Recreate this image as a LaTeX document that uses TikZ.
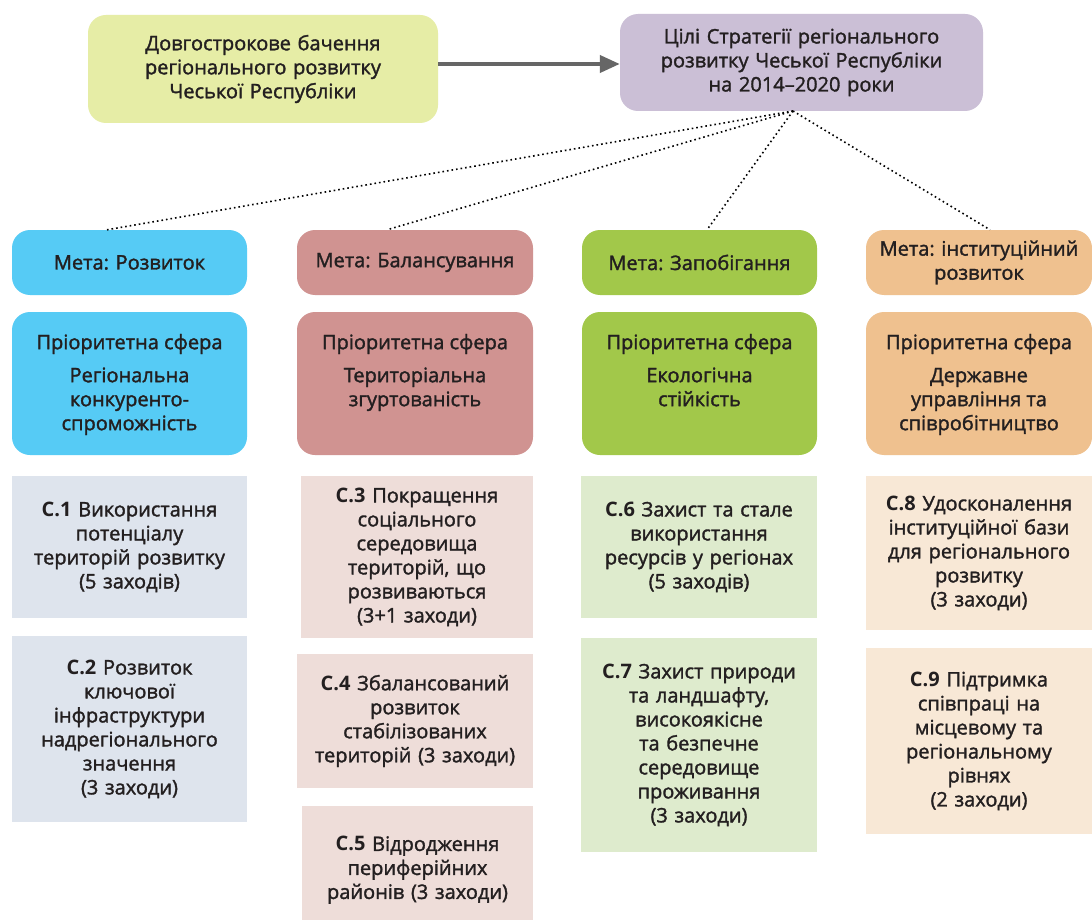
\documentclass[tikz,border=0pt]{standalone}
\usepackage{fontspec}
\setmainfont{Open Sans}[UprightFeatures={FakeBold=1.6}]
\usetikzlibrary{arrows.meta}
\definecolor{txt}{HTML}{231F20}
\definecolor{cA}{HTML}{E6EDA6}
\definecolor{cB}{HTML}{CBBFD6}
\definecolor{cBlue}{HTML}{56CBF5}
\definecolor{cRose}{HTML}{D09391}
\definecolor{cGreen}{HTML}{A2C84A}
\definecolor{cOrange}{HTML}{EFC18F}
\definecolor{lBlue}{HTML}{DEE4ED}
\definecolor{lRose}{HTML}{EEDDD9}
\definecolor{lGreen}{HTML}{DEEBCD}
\definecolor{lOrange}{HTML}{F8E8D6}
\definecolor{arr}{HTML}{666666}
\frenchspacing
\begin{document}
\begin{tikzpicture}[x=1pt,y=-1pt,
  every node/.style={text=txt, font=\fontsize{20}{24}\selectfont},
  rbox/.style={rounded corners=18pt, inner sep=0pt, align=center},
  sbox/.style={inner sep=0pt, align=center},
  ptext/.style={inner sep=0pt, align=center, anchor=north},
  dotline/.style={line width=1.6pt, dash pattern=on 1.6pt off 3pt},
  bigarrow/.style={line width=4pt, arr, -{Triangle[length=20pt,width=17pt]}}
]
\useasboundingbox (0,0) rectangle (1092,920);
\fill[white] (0,0) rectangle (1092,920);

% top boxes
\node[rbox, fill=cA, minimum width=350, minimum height=108, text width=340] (A) at (263,69)
  {Довгострокове бачення\\регіонального розвитку\\Чеської Республіки};
\node[rbox, fill=cB, minimum width=363, minimum height=97, text width=355] (B) at (801.5,62.5)
  {Цілі Стратегії регіонального\\розвитку Чеської Республіки\\на 2014–2020 роки};
\draw[bigarrow] (A.east |- 0,64) -- (B.west |- 0,64);

% goal boxes
\node[rbox, fill=cBlue, minimum width=235, minimum height=65, text width=228] (m1) at (129.5,262.5) {Мета: Розвиток};
\node[rbox, fill=cRose, minimum width=236, minimum height=65, text width=232] (m2) at (415,262.5) {Мета: Балансування};
\node[rbox, fill=cGreen, minimum width=235, minimum height=65, text width=228] (m3) at (699.5,262.5) {Мета: Запобігання};
\node[rbox, fill=cOrange, minimum width=226, minimum height=65, text width=224] (m4) at (979,262.5) {Мета: інституційний\\розвиток};

% dotted connectors
\coordinate (hub) at (793,111);
\draw[dotline] (hub) -- ([xshift=-22.5pt]m1.north);
\draw[dotline] (hub) -- ([xshift=-28pt]m2.north);
\draw[dotline] (hub) -- ([xshift=7.5pt]m3.north);
\draw[dotline] (hub) -- ([xshift=11pt]m4.north);

% priority boxes
\node[rbox, fill=cBlue, minimum width=235, minimum height=143] (p1) at (129.5,383.5) {};
\node[rbox, fill=cRose, minimum width=236, minimum height=143] (p2) at (415,383.5) {};
\node[rbox, fill=cGreen, minimum width=235, minimum height=143] (p3) at (699.5,383.5) {};
\node[rbox, fill=cOrange, minimum width=226, minimum height=143] (p4) at (979,383.5) {};
\node[ptext] (p1t) at ([yshift=-22pt]p1.north) {Пріоритетна сфера\\[9pt]Регіональна\\конкуренто-\\спроможність};
\node[ptext] (p2t) at ([yshift=-22pt]p2.north) {Пріоритетна сфера\\[9pt]Територіальна\\згуртованість};
\node[ptext] (p3t) at ([yshift=-22pt]p3.north) {Пріоритетна сфера\\[9pt]Екологічна\\стійкість};
\node[ptext] (p4t) at ([yshift=-22pt]p4.north) {Пріоритетна сфера\\[9pt]Державне\\управління та\\співробітництво};

% measures
\node[sbox, fill=lBlue, minimum width=235, minimum height=142, text width=230] (c1) at (129.5,547)
  {\textbf{С.1} Використання\\потенціалу\\територій розвитку\\(5 заходів)};
\node[sbox, fill=lBlue, minimum width=235, minimum height=186, text width=230] (c2) at (129.5,729)
  {\textbf{С.2} Розвиток\\ключової\\інфраструктури\\надрегіонального\\значення\\(3 заходи)};
\node[sbox, fill=lRose, minimum width=232, minimum height=162, text width=228] (c3) at (417,557)
  {\textbf{С.3} Покращення\\соціального\\середовища\\територій, що\\розвиваються\\(3+1 заходи)};
\node[sbox, fill=lRose, minimum width=236, minimum height=134, text width=234] (c4) at (415,721)
  {\textbf{С.4} Збалансований\\розвиток\\стабілізованих\\територій (3 заходи)};
\node[sbox, fill=lRose, minimum width=231, minimum height=128, text width=228] (c5) at (417.5,870)
  {\textbf{С.5} Відродження\\периферійних\\районів (3 заходи)};
\node[sbox, fill=lGreen, minimum width=236, minimum height=142, text width=232] (c6) at (699,547)
  {\textbf{С.6} Захист та стале\\використання\\ресурсів у регіонах\\(5 заходів)};
\node[sbox, fill=lGreen, minimum width=236, minimum height=214, text width=232] (c7) at (699,745)
  {\textbf{С.7} Захист природи\\та ландшафту,\\високоякісне\\та безпечне\\середовище\\проживання\\(3 заходи)};
\node[sbox, fill=lOrange, minimum width=226, minimum height=154, text width=224] (c8) at (979,553)
  {\textbf{С.8} Удосконалення\\інституційної бази\\для регіонального\\розвитку\\(3 заходи)};
\node[sbox, fill=lOrange, minimum width=226, minimum height=186, text width=224] (c9) at (979,741)
  {\textbf{С.9} Підтримка\\співпраці на\\місцевому та\\регіональному\\рівнях\\(2 заходи)};
\end{tikzpicture}
\end{document}
